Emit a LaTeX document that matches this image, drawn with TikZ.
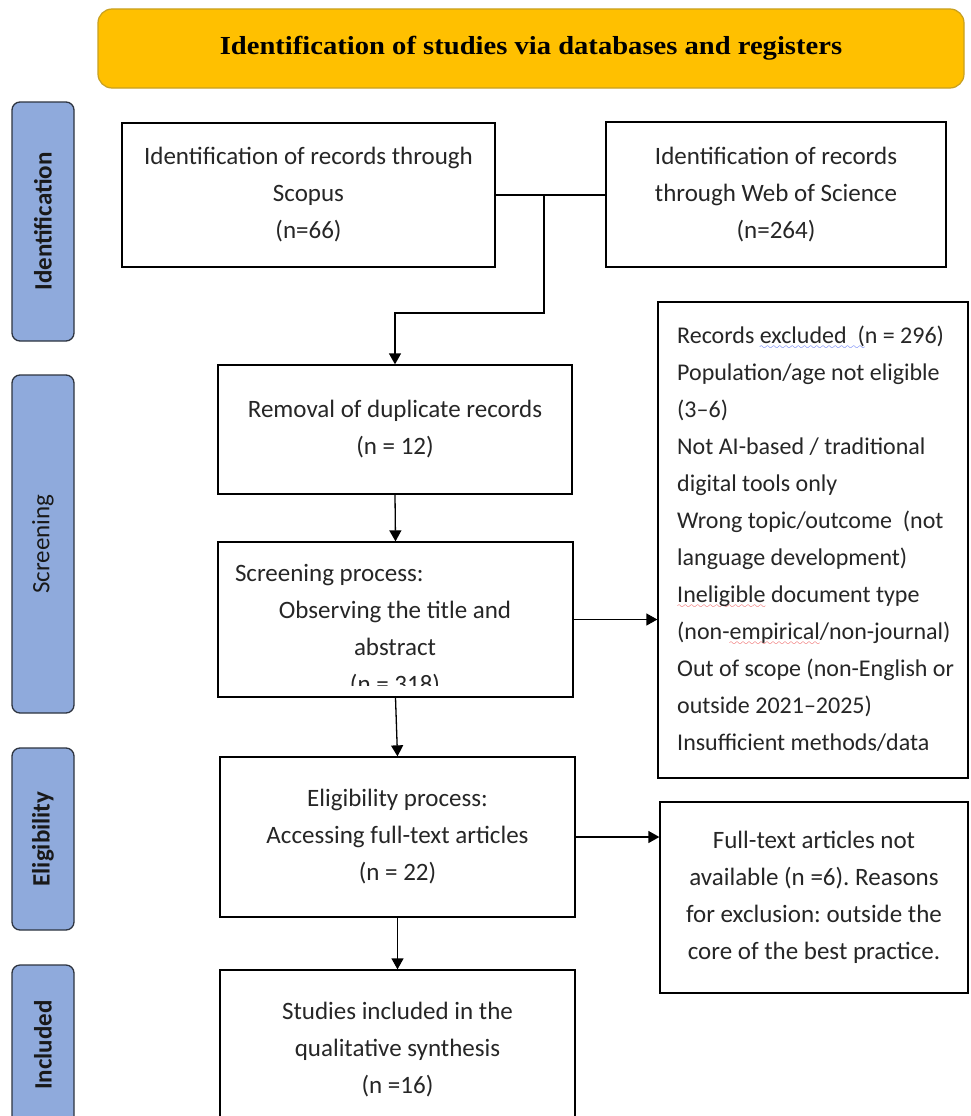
\documentclass[tikz,border=0pt]{standalone}
\usepackage{fontspec}
\setmainfont{Carlito}
\newfontfamily\bannerfont{Liberation Serif}
\usetikzlibrary{arrows.meta}
\definecolor{gold}{HTML}{FFC000}
\definecolor{goldborder}{HTML}{C8A020}
\definecolor{phase}{HTML}{8FAADC}
\definecolor{phaseborder}{HTML}{2E3440}
\definecolor{squigblue}{HTML}{2040F0}
\definecolor{squigred}{HTML}{E82020}
\font\wavefont=lasy10 at 9pt\relax
\newsavebox\squigbox
\newcommand\squig[2]{\sbox\squigbox{#2}%
  \rlap{\raisebox{-5.5pt}{\textcolor{#1}{\hbox to \wd\squigbox{\xleaders\hbox{\wavefont\char58}\hfil}}}}\usebox\squigbox}
\begin{document}
\frenchspacing
\begin{tikzpicture}[x=1pt,y=-1pt,
  every node/.style={font=\fontsize{25}{37}\selectfont\frenchspacing, text=black!85},
  box/.style={draw=black, line width=1.3pt, fill=white, inner sep=0pt, align=center},
  phasebox/.style={draw=phaseborder, fill=phase, line width=1.3pt, rounded corners=8pt, inner sep=0pt, rotate=90, minimum height=62pt},
  arr/.style={-{Triangle[length=11pt,width=12pt]}, line width=1.3pt},
  conn/.style={line width=1.3pt}
]
\clip (0,0) rectangle (970,1116);
\useasboundingbox (0,0) rectangle (970,1116);
\fill[white] (0,0) rectangle (970,1116);

% banner
\node[draw=goldborder, fill=gold, line width=1.2pt, rounded corners=14pt,
      minimum width=866pt, minimum height=79pt, inner sep=0pt] (banner) at (531,48.5)
  {\scalebox{1.1}[1]{\bannerfont\bfseries\fontsize{26}{30}\selectfont\color{black}Identification of studies via databases and registers}};

% phase labels
\node[phasebox, minimum width=239pt] (pid) at (43,221.5) {\bfseries\color{black!90}Identification};
\node[phasebox, minimum width=338pt] (psc) at (43,544) {\color{black!90}Screening};
\node[phasebox, minimum width=182pt] (pel) at (43,839) {\bfseries\color{black!90}Eligibility};
\node[phasebox, minimum width=160pt] (pin) at (43,1045) {\bfseries\color{black!90}Included};

% boxes
\node[box, minimum width=373pt, minimum height=144pt] (scopus) at (308.5,195)
  {Identification of records through\\Scopus\\(n=66)};
\node[box, minimum width=340pt, minimum height=145pt] (wos) at (776,194.5)
  {Identification of records\\through Web of Science\\(n=264)};
\node[box, minimum width=354pt, minimum height=129pt] (removal) at (395,429.5)
  {Removal of duplicate records\\(n = 12)};
\node[box, minimum width=355pt, minimum height=155pt] (screen) at (395.5,619.5) {};
\begin{scope}
  \clip (218,542) rectangle (573,685);
  \node[inner sep=0pt, align=center] (screentext) at (395,630)
    {\makebox[320pt][l]{Screening process:}\\Observing the title and\\abstract\\(n = 318)};
\end{scope}
\node[box, minimum width=310pt, minimum height=476pt] (excl) at (813,540) {};
\node[inner sep=0pt, anchor=west, align=left, font=\fontsize{24}{37}\selectfont] (excltext) at (677,539)
  {Records \squig{squigblue}{excluded\ \ (}n = 296)\\
   Population/age not eligible\\
   (3–6)\\
   Not AI-based / traditional\\
   digital tools only\\
   Wrong topic/outcome\ \ (not\\
   language development)\\
   \squig{squigred}{Ineligible} document type\\
   (non-\squig{squigred}{empirical}/non-journal)\\
   Out of scope (non-English or\\
   outside 2021–2025)\\
   Insufficient methods/data};
\node[box, minimum width=355pt, minimum height=160pt] (elig) at (397.5,837)
  {Eligibility process:\\Accessing full-text articles\\(n = 22)};
\node[box, minimum width=308pt, minimum height=191pt] (full) at (814,897.5)
  {Full-text articles not\\available (n =6). Reasons\\for exclusion: outside the\\core of the best practice.};
\node[box, minimum width=355pt, minimum height=160pt] (incl) at (397.5,1050)
  {Studies included in the\\qualitative synthesis\\(n =16)};

% connectors
\coordinate (j) at (544,195);
\coordinate (k) at (544,313);
\draw[conn] (scopus.east) -- (scopus.east -| wos.west);
\draw[arr] (j) -- (k) -| (removal.north);
\draw[arr] (removal.south) -- (screen.north);
\draw[arr] (screen.east) -- (screen.east -| excl.west);
\draw[arr] (screen.south) -- (elig.north);
\draw[arr] (elig.east) -- (elig.east -| full.west);
\draw[arr] (elig.south) -- (incl.north);
\end{tikzpicture}
\end{document}
